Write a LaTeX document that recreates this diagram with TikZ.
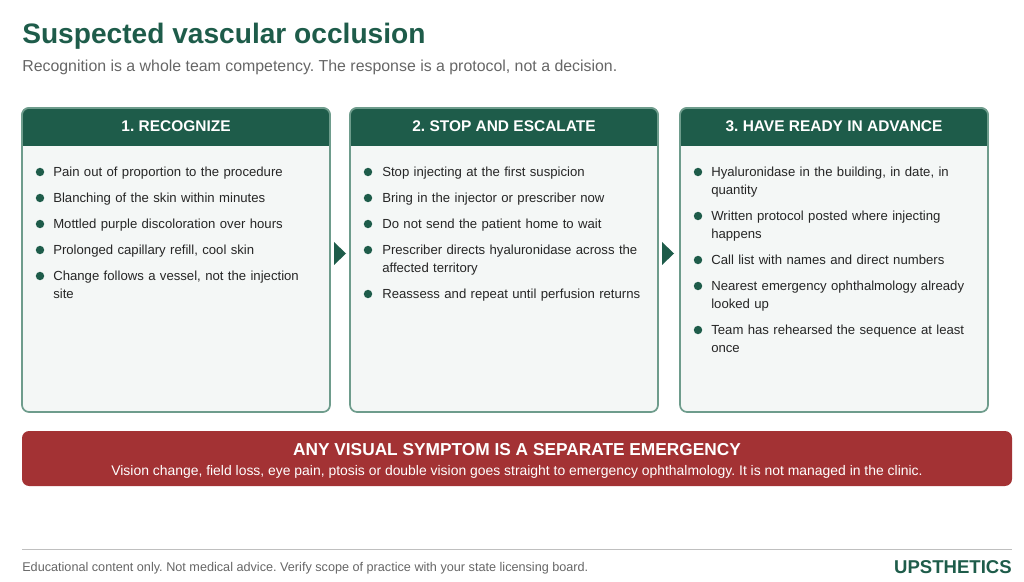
\documentclass[tikz,border=0pt]{standalone}
\usepackage{fontspec}
\setmainfont{Liberation Sans}
\definecolor{dg}{HTML}{1E5C4A}
\definecolor{bf}{HTML}{F4F7F6}
\definecolor{bd}{HTML}{6E9C8C}
\definecolor{rd}{HTML}{A33234}
\definecolor{gt}{HTML}{666666}
\begin{document}
\frenchspacing\hyphenpenalty=10000\exhyphenpenalty=10000
\begin{tikzpicture}[x=0.025cm,y=-0.025cm,
 card/.style={draw=bd,line width=1.2pt,fill=bf,rounded corners=5pt},
 htxt/.style={text=white,font=\bfseries\fontsize{11}{12}\selectfont},
 item/.style={anchor=north west,text width=#1,align=left,inner sep=0pt,font=\fontsize{9.35}{12.76}\selectfont,text=black!85},
 dot/.style={circle,fill=dg,inner sep=0pt,minimum size=6pt},
 arr/.style={fill=dg}]
\useasboundingbox (0,0) rectangle (1024,582);
\node[anchor=west,inner sep=0pt,text=dg,font=\bfseries\fontsize{20}{24}\selectfont] (title) at (22,36) {Suspected vascular occlusion};
\node[anchor=west,inner sep=0pt,text=gt,font=\fontsize{11.3}{13}\selectfont] (sub) at (22,67) {Recognition is a whole team competency. The response is a protocol, not a decision.};
\foreach \x/\n/\t in {22/a/1. RECOGNIZE,350/b/2. STOP AND ESCALATE,680/c/3. HAVE READY IN ADVANCE}{
 \draw[card] (\x,108) rectangle (\x+308,412);
 \begin{scope}
 \clip[rounded corners=5pt] (\x,108) rectangle (\x+308,160);
 \fill[dg] (\x,108) rectangle (\x+308,146);
 \end{scope}
 \draw[bd,line width=1.2pt,rounded corners=5pt] (\x,146) -- (\x,108) -- (\x+308,108) -- (\x+308,146);
 \node[htxt] (h\n) at (\x+154,126) {\t};
}
\fill[arr] (334,242) -- (346,253.5) -- (334,265) -- cycle;
\fill[arr] (662,242) -- (674,253.5) -- (662,265) -- cycle;
\foreach \y/\t [count=\i] in {164/Pain out of proportion to the procedure,190/Blanching of the skin within minutes,216/Mottled purple discoloration over hours,242/{Prolonged capillary refill, cool skin},268/{Change follows a vessel, not the injection site}}{
 \node[dot] (da\i) at (40,\y+8) {};
 \node[item=6.4cm] (ta\i) at (53,\y+2.5) {\t};
}
\foreach \y/\t [count=\i] in {164/Stop injecting at the first suspicion,190/Bring in the injector or prescriber now,216/Do not send the patient home to wait,242/Prescriber directs hyaluronidase across the affected territory,286/Reassess and repeat until perfusion returns}{
 \node[dot] (db\i) at (368,\y+8) {};
 \node[item=6.6cm] (tb\i) at (382,\y+2.5) {\t};
}
\foreach \y/\t [count=\i] in {164/{Hyaluronidase in the building, in date, in quantity},208/Written protocol posted where injecting happens,252/Call list with names and direct numbers,278/Nearest emergency ophthalmology already looked up,322/Team has rehearsed the sequence at least once}{
 \node[dot] (dc\i) at (698,\y+8) {};
 \node[item=6.5cm] (tc\i) at (711,\y+2.5) {\t};
}
\fill[rd,rounded corners=5pt] (22,431) rectangle (1012,486);
\node[text=white,font=\bfseries\fontsize{12.3}{14}\selectfont] (rt) at (517,450) {ANY VISUAL SYMPTOM IS A SEPARATE EMERGENCY};
\node[text=white,font=\fontsize{9.9}{11}\selectfont] (rs) at (517,472) {Vision change, field loss, eye pain, ptosis or double vision goes straight to emergency ophthalmology. It is not managed in the clinic.};
\draw[black!25,line width=0.6pt] (22,549) -- (1012,549);
\node[anchor=west,inner sep=0pt,text=gt,font=\fontsize{9}{10}\selectfont] (ft) at (22,568) {Educational content only. Not medical advice. Verify scope of practice with your state licensing board.};
\node[anchor=east,inner sep=0pt,text=dg,font=\bfseries\fontsize{13.2}{14}\selectfont] (logo) at (1012,567) {UPSTHETICS};
\end{tikzpicture}
\end{document}
